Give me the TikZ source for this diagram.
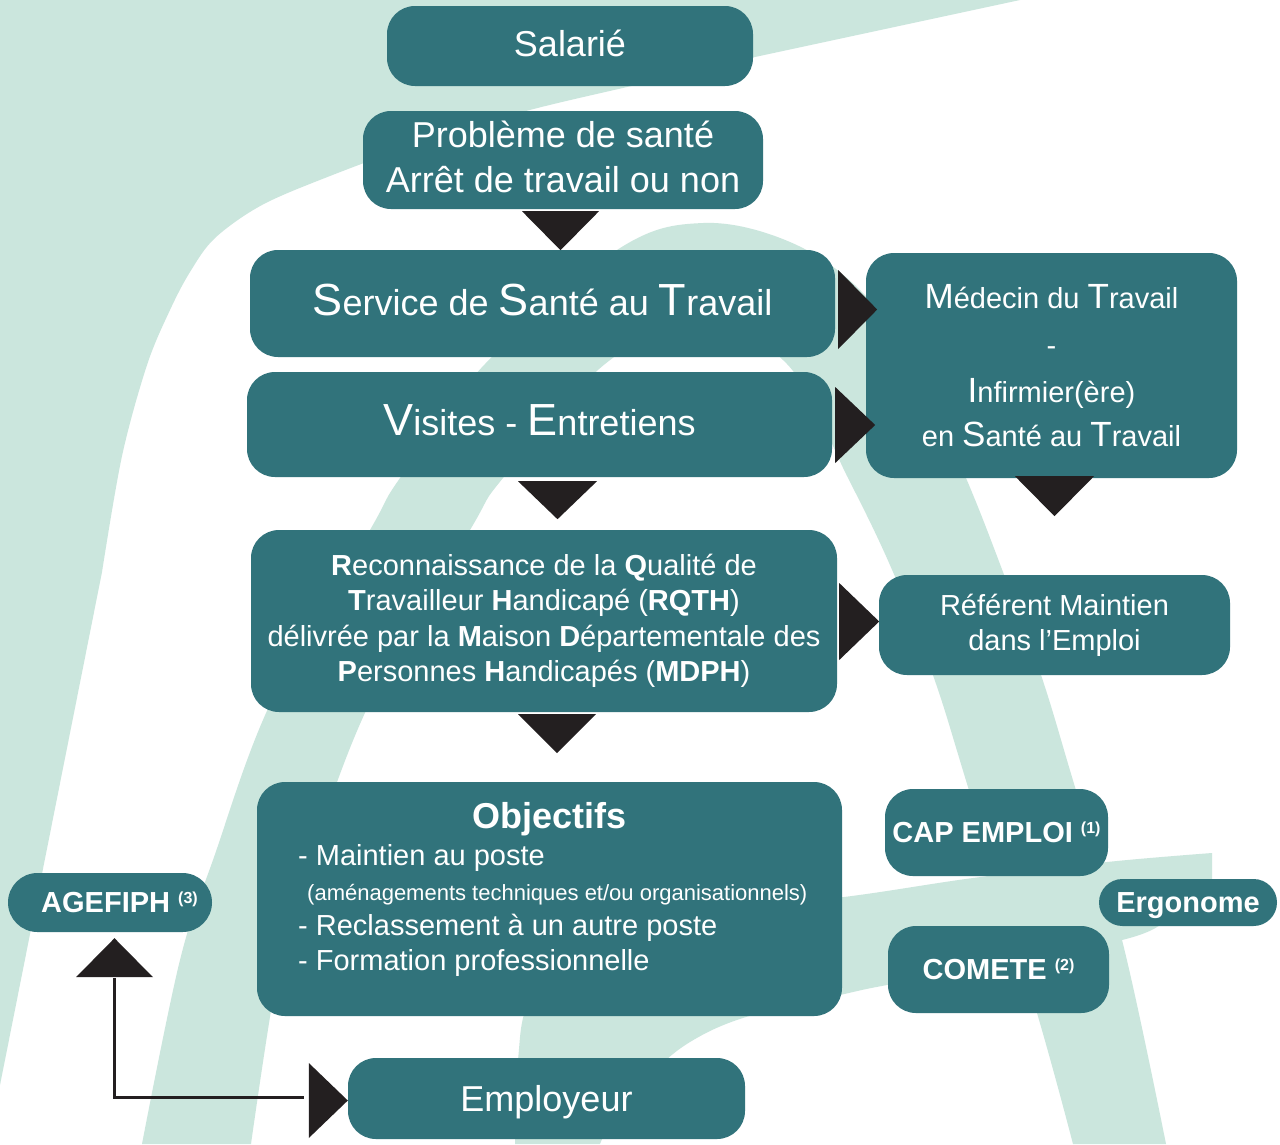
\documentclass[tikz,border=0pt]{standalone}
\usepackage{fontspec}
\setmainfont{Liberation Sans}
\usetikzlibrary{calc}

\definecolor{boxteal}{RGB}{49,115,123}
\definecolor{bgmint}{RGB}{203,230,221}
\definecolor{tridark}{RGB}{35,31,32}

\newcommand{\fsz}[2]{\fontsize{#1}{#2}\selectfont}
\newcommand{\bigc}[1]{{\fsz{45}{45}#1}}
\newcommand{\midc}[1]{{\fsz{35}{35}#1}}
\newcommand{\supr}[1]{\raisebox{9pt}{\fsz{16}{16}#1}}

\tikzset{
  box/.style={fill=boxteal, rounded corners=28, text=white, inner sep=0, align=center},
  txt/.style={text=white, inner sep=0},
  tri/.style={fill=tridark},
  link/.style={draw=tridark, line width=3},
}

\begin{document}
\begin{tikzpicture}[x=1pt,y=-1pt]

\useasboundingbox (0,0) rectangle (1280,1144);
\fill[white] (0,0) rectangle (1280,1144);

\fill[bgmint] (0,0) -- (1020,0) -- (755,57)
  -- plot[smooth, tension=0.55] coordinates {(755,57) (640,84) (526,111) (420,143) (330,176) (262,205) (215,238) (190,272) (170,310) (147,365) (122,456) (102,572)}
  -- (0,1085) -- cycle;

\fill[bgmint] plot[smooth, tension=0.6] coordinates {(142,1144) (180,960) (213,860) (272,700) (370,530) (400,478) (485,364) (617,250) (703,223) (790,242) (860,290) (915,365) (966,478) (1003,572) (1042,678) (1075,787) (1122,940) (1166,1144)}
  -- plot[smooth, tension=0.6] coordinates {(1073,1144) (1037,1013) (968,787) (934,678) (893,572) (848,478) (787,364) (698,322) (605,364) (503,478) (470,530) (371,700) (310,860) (280,960) (251,1144)}
  -- cycle;

\fill[bgmint] plot[smooth, tension=0.6] coordinates {(515,1144) (518,1060) (530,1000) (580,945) (700,912) (844,897) (973,878) (1107,862) (1212,853)}
  -- (1212,895)
  -- plot[smooth, tension=0.6] coordinates {(1157,927) (1122,940) (1000,965) (887,985) (840,995) (746,1017) (690,1042) (650,1075) (615,1115) (600,1144)}
  -- cycle;

\node[box, minimum width=366, minimum height=80, text depth=6, font=\fsz{36}{44}] (sal) at (570,46) {Salarié};
\node[box, minimum width=400, minimum height=98, text depth=6, font=\fsz{36}{45}] (prob) at (563,160) {Problème de santé\\Arrêt de travail ou non};
\node[box, minimum width=585, minimum height=107, text depth=8, font=\fsz{36}{44}] (sst) at (542.5,303.5) {\bigc{S}ervice de \bigc{S}anté au \bigc{T}ravail};
\node[box, minimum width=585, minimum height=105, text depth=8, font=\fsz{36}{44}] (vis) at (539.5,424.5) {\bigc{V}isites - \bigc{E}ntretiens};
\node[box, minimum width=371, minimum height=225, font=\fsz{29}{47}] (med) at (1051.5,365.5) {\midc{M}édecin du \midc{T}ravail\\-\\\midc{I}nfirmier(ère)\\[-3pt]en \midc{S}anté au \midc{T}ravail};
\node[box, minimum width=586, minimum height=182, font=\fsz{29}{35.5}] (rqth) at (544,621) {\textbf{R}econnaissance de la \textbf{Q}ualité de\\\textbf{T}ravailleur \textbf{H}andicapé (\textbf{RQTH})\\délivrée par la \textbf{M}aison \textbf{D}épartementale des\\\textbf{P}ersonnes \textbf{H}andicapés (\textbf{MDPH})};
\node[box, minimum width=351, minimum height=100, font=\fsz{29}{35}] (ref) at (1054.5,625) {Référent Maintien\\dans l’Emploi};

\node[box, minimum width=585, minimum height=234] (obj) at (549.5,899) {};
\node[txt, anchor=base, font=\bfseries\fsz{36}{40}] (objt) at ($(obj.north)+(0,47)$) {Objectifs};
\node[txt, anchor=north west, align=left, font=\fsz{29}{35}] (objl) at (298,844) {- Maintien au poste\\\hspace*{9pt}{\fsz{22}{22}(aménagements techniques et/ou organisationnels)}\\- Reclassement à un autre poste\\- Formation professionnelle};

\node[box, minimum width=223, minimum height=87, font=\bfseries\fsz{29}{35}] (cap) at (996.5,832.5) {CAP EMPLOI \supr{(1)}};
\node[box, rounded corners=23.5, minimum width=178, minimum height=47, text depth=0, font=\bfseries\fsz{29}{35}] (ergo) at (1188,902.5) {Ergonome};
\node[box, minimum width=221, minimum height=87, font=\bfseries\fsz{29}{35}] (com) at (998.5,969.5) {COMETE \supr{(2)}};
\node[box, rounded corners=29.5, minimum width=204, minimum height=59, font=\bfseries\fsz{29}{35}] (agef) at (110,902.5) {\hspace*{19pt}AGEFIPH \supr{(3)}};
\node[box, minimum width=397, minimum height=81, text depth=0, font=\fsz{36}{44}] (emp) at (546.5,1098.5) {Employeur};

\fill[tri] ($(prob.south)+(-41,2)$) -- ++(77,0) -- ++(-38.5,39) -- cycle;
\fill[tri] ($(vis.south)+(-21.5,4)$) -- ++(79,0) -- ++(-39.5,38) -- cycle;
\fill[tri] ($(med.south)+(-36.5,-2)$) -- ++(79,0) -- ++(-39.5,40) -- cycle;
\fill[tri] ($(rqth.south)+(-26,2)$) -- ++(78,0) -- ++(-39,39) -- cycle;

\fill[tri] ($(sst.east)+(3,-33.5)$) -- ++(0,79) -- ++(39,-39.5) -- cycle;
\fill[tri] ($(vis.east)+(3,-37.5)$) -- ++(0,76) -- ++(40,-38) -- cycle;
\fill[tri] ($(rqth.east)+(2,-38)$) -- ++(0,77) -- ++(40,-38.5) -- cycle;
\fill[tri] ($(emp.west)+(-39,-35.5)$) -- ++(0,75) -- ++(39,-37.5) -- cycle;

\fill[tri] ($(agef.south)+(-34,45)$) -- ++(77,0) -- ++(-38.5,-39) -- cycle;
\draw[link] ($(agef.south)+(4,46)$) |- ($(emp.west)+(-44,-1.5)$);

\end{tikzpicture}
\end{document}
